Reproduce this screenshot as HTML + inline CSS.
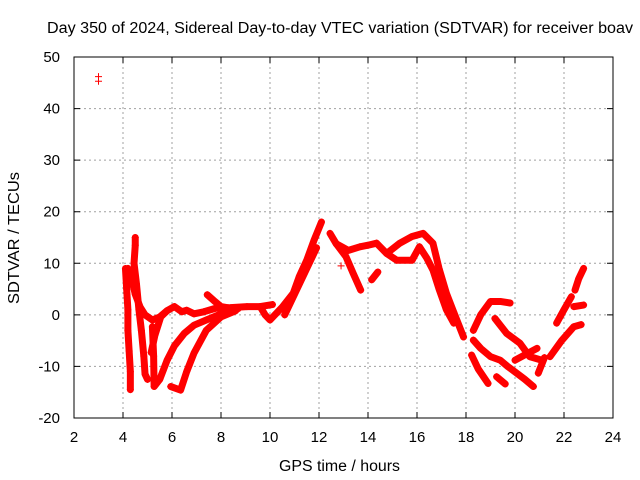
<!DOCTYPE html>
<html><head><meta charset="utf-8"><style>
body{margin:0;background:#fff}
svg{display:block;font-family:"Liberation Sans",sans-serif}
</style></head><body>
<svg id="chart" width="640" height="480">
<rect width="640" height="480" fill="#fff"/>
<g id="grid"></g>
<g id="marks"></g>
<rect x="74" y="57" width="539" height="361" fill="none" stroke="#000" stroke-width="1"/>
<g id="ticks" font-size="15" fill="#000"></g>
<text x="47" y="33" font-size="15.5" textLength="586" lengthAdjust="spacingAndGlyphs">Day 350 of 2024, Sidereal Day-to-day VTEC variation (SDTVAR) for receiver boav</text>
<text x="279" y="471" font-size="15.5" textLength="121" lengthAdjust="spacingAndGlyphs">GPS time / hours</text>
<text transform="translate(19,304) rotate(-90)" font-size="15.5" textLength="132" lengthAdjust="spacingAndGlyphs">SDTVAR / TECUs</text>
</svg>
<script>
const xTicks=[2,4,6,8,10,12,14,16,18,20,22,24];
const yTicks=[-20,-10,0,10,20,30,40,50];
const outlier=[[3.0,45.3],[3.0,46.2]];
const track1=[[4.1,9],[4.15,5],[4.2,1],[4.2,-3],[4.25,-7],[4.3,-11],[4.3,-14.5]];
const track2=[[4.5,15],[4.5,13.5],[4.45,10],[4.55,6],[4.65,1],[4.75,-3],[4.85,-8],[4.9,-11.5],[5.0,-12.5]];
const track3=[[4.2,9],[4.35,7],[4.5,4],[4.7,1.5],[4.9,0],[5.2,-1],[5.5,-0.4],[5.8,0.8],[6.1,1.6],[6.4,0.6],[6.6,0.9],[6.9,0.2],[7.3,0.6],[7.8,1.3],[8.4,1.4],[9.06,1.6],[9.6,1.6],[10.1,2]];
const track4=[[5.15,-7.3],[5.3,-4],[5.54,-0.4],[5.8,0.8]];
const track5=[[5.2,-2.3],[5.25,-8],[5.27,-13.9],[5.5,-12.5],[5.8,-8.8],[6.1,-6],[6.5,-3.6],[6.9,-2],[7.4,-1],[8.1,0.4],[8.7,1.2]];
const track6=[[5.95,-13.9],[6.35,-14.6],[6.6,-11],[6.9,-7.4],[7.4,-3],[8.0,-0.4],[8.6,0.8]];
const track7=[[7.44,3.9],[7.7,2.8],[8.0,1.6],[8.5,1.2]];
const track8=[[9.6,1.6],[9.8,0],[10.0,-1],[10.5,1.5],[10.95,4.2],[11.2,7.5],[11.5,10.6],[11.8,14.5],[12.1,18]];
const track9=[[10.6,0],[11.0,4],[11.4,8],[11.9,13]];
const track10=[[12.45,15.8],[12.7,13.8],[13.1,11.3],[13.4,8],[13.7,4.8]];
const track11=[[12.7,13.8],[13.2,12.5],[13.67,13.2],[14.0,13.5],[14.35,13.9],[14.76,11.9],[15.3,13.9],[15.8,15.2],[16.25,15.8],[16.65,13.9],[16.9,9],[17.2,4.2],[17.5,0.5],[17.9,-4.3]];
const track12=[[14.15,6.8],[14.4,8.3]];
const track13=[[14.76,11.9],[15.17,10.6],[15.8,10.6],[16.1,13.2],[16.4,11],[16.65,8.7],[16.9,5],[17.2,1],[17.5,-1.6]];
const track14=[[12.9,9.5]];
const track15=[[18.3,-3],[18.6,0],[19.0,2.6],[19.4,2.6],[19.8,2.3]];
const track16=[[18.3,-4.9],[18.6,-6.5],[19.0,-8.1],[19.4,-8.8],[19.7,-10],[20.07,-11.3],[20.4,-12.5],[20.75,-13.9]];
const track17=[[18.23,-7.8],[18.5,-10.5],[18.9,-13.3]];
const track18=[[19.25,-12],[19.6,-13.4]];
const track19=[[19.18,-0.7],[19.66,-3.6],[20.2,-5.5],[20.6,-8.1],[21.1,-8.8]];
const track20=[[20.0,-8.8],[20.5,-7.5],[20.9,-6.5]];
const track21=[[20.95,-11.3],[21.2,-8.3]];
const track22=[[21.43,-8.1],[21.9,-5],[22.4,-2.3],[22.7,-1.9]];
const track23=[[21.7,-1.6],[22.0,1],[22.3,3.5]];
const track24=[[22.4,1.6],[22.8,1.9]];
const track25=[[22.45,4.8],[22.6,7],[22.8,9]];
const tracks=[track1,track2,track3,track4,track5,track6,track7,track8,track9,track10,track11,track12,track13,track14,track15,track16,track17,track18,track19,track20,track21,track22,track23,track24,track25];

const NS='http://www.w3.org/2000/svg';
const X0=74,X1=613,Y0=418,Y1=57,XMIN=2,XMAX=24,YMIN=-20,YMAX=50;
function sx(h){return X0+(h-XMIN)/(XMAX-XMIN)*(X1-X0);}
function sy(v){return Y0-(v-YMIN)/(YMAX-YMIN)*(Y0-Y1);}
function mk(tag,attrs){const e=document.createElementNS(NS,tag);for(const k in attrs)e.setAttribute(k,attrs[k]);return e;}
const grid=document.getElementById('grid'),ticks=document.getElementById('ticks'),marks=document.getElementById('marks');
xTicks.forEach(t=>{
  const x=sx(t);
  if(t>XMIN&&t<XMAX){const g=mk('line',{x1:x,x2:x,y1:Y1,y2:Y0,stroke:'#a0a0a0','stroke-dasharray':'2,3'});
  
  
  grid.appendChild(g);}
  const tk=mk('path',{d:`M${x},${Y0}v-6M${x},${Y1}v6`,stroke:'#000'});
  
  
  ticks.appendChild(tk);
  const l=mk('text',{x:x,y:442,'text-anchor':'middle'});l.textContent=t;
  
  
  ticks.appendChild(l);
});
yTicks.forEach(t=>{
  const y=sy(t);
  if(t>YMIN&&t<YMAX){const g=mk('line',{x1:X0,x2:X1,y1:y,y2:y,stroke:'#a0a0a0','stroke-dasharray':'2,3'});
  
  
  grid.appendChild(g);}
  const tk=mk('path',{d:`M${X0},${y}h6M${X1},${y}h-6`,stroke:'#000'});
  
  
  ticks.appendChild(tk);
  const l=mk('text',{x:60,y:y+5,'text-anchor':'end'});l.textContent=t;
  
  
  ticks.appendChild(l);
});
function plus(h,v){
  const x=sx(h),y=sy(v);
  const p=mk('path',{d:`M${x-3.5},${y}h7M${x},${y-3.5}v7`,stroke:'#f00','stroke-width':1});
  
  
  marks.appendChild(p);
}
tracks.forEach(tr=>{
  if(tr.length>1){
    const pl=mk('polyline',{points:tr.map(p=>sx(p[0])+','+sy(p[1])).join(' '),fill:'none',stroke:'#f00','stroke-width':7,'stroke-linejoin':'round','stroke-linecap':'round'});
    
    
    marks.appendChild(pl);
  }
  tr.forEach(p=>plus(p[0],p[1]));
});
outlier.forEach(p=>plus(p[0],p[1]));
</script>
</body></html>
